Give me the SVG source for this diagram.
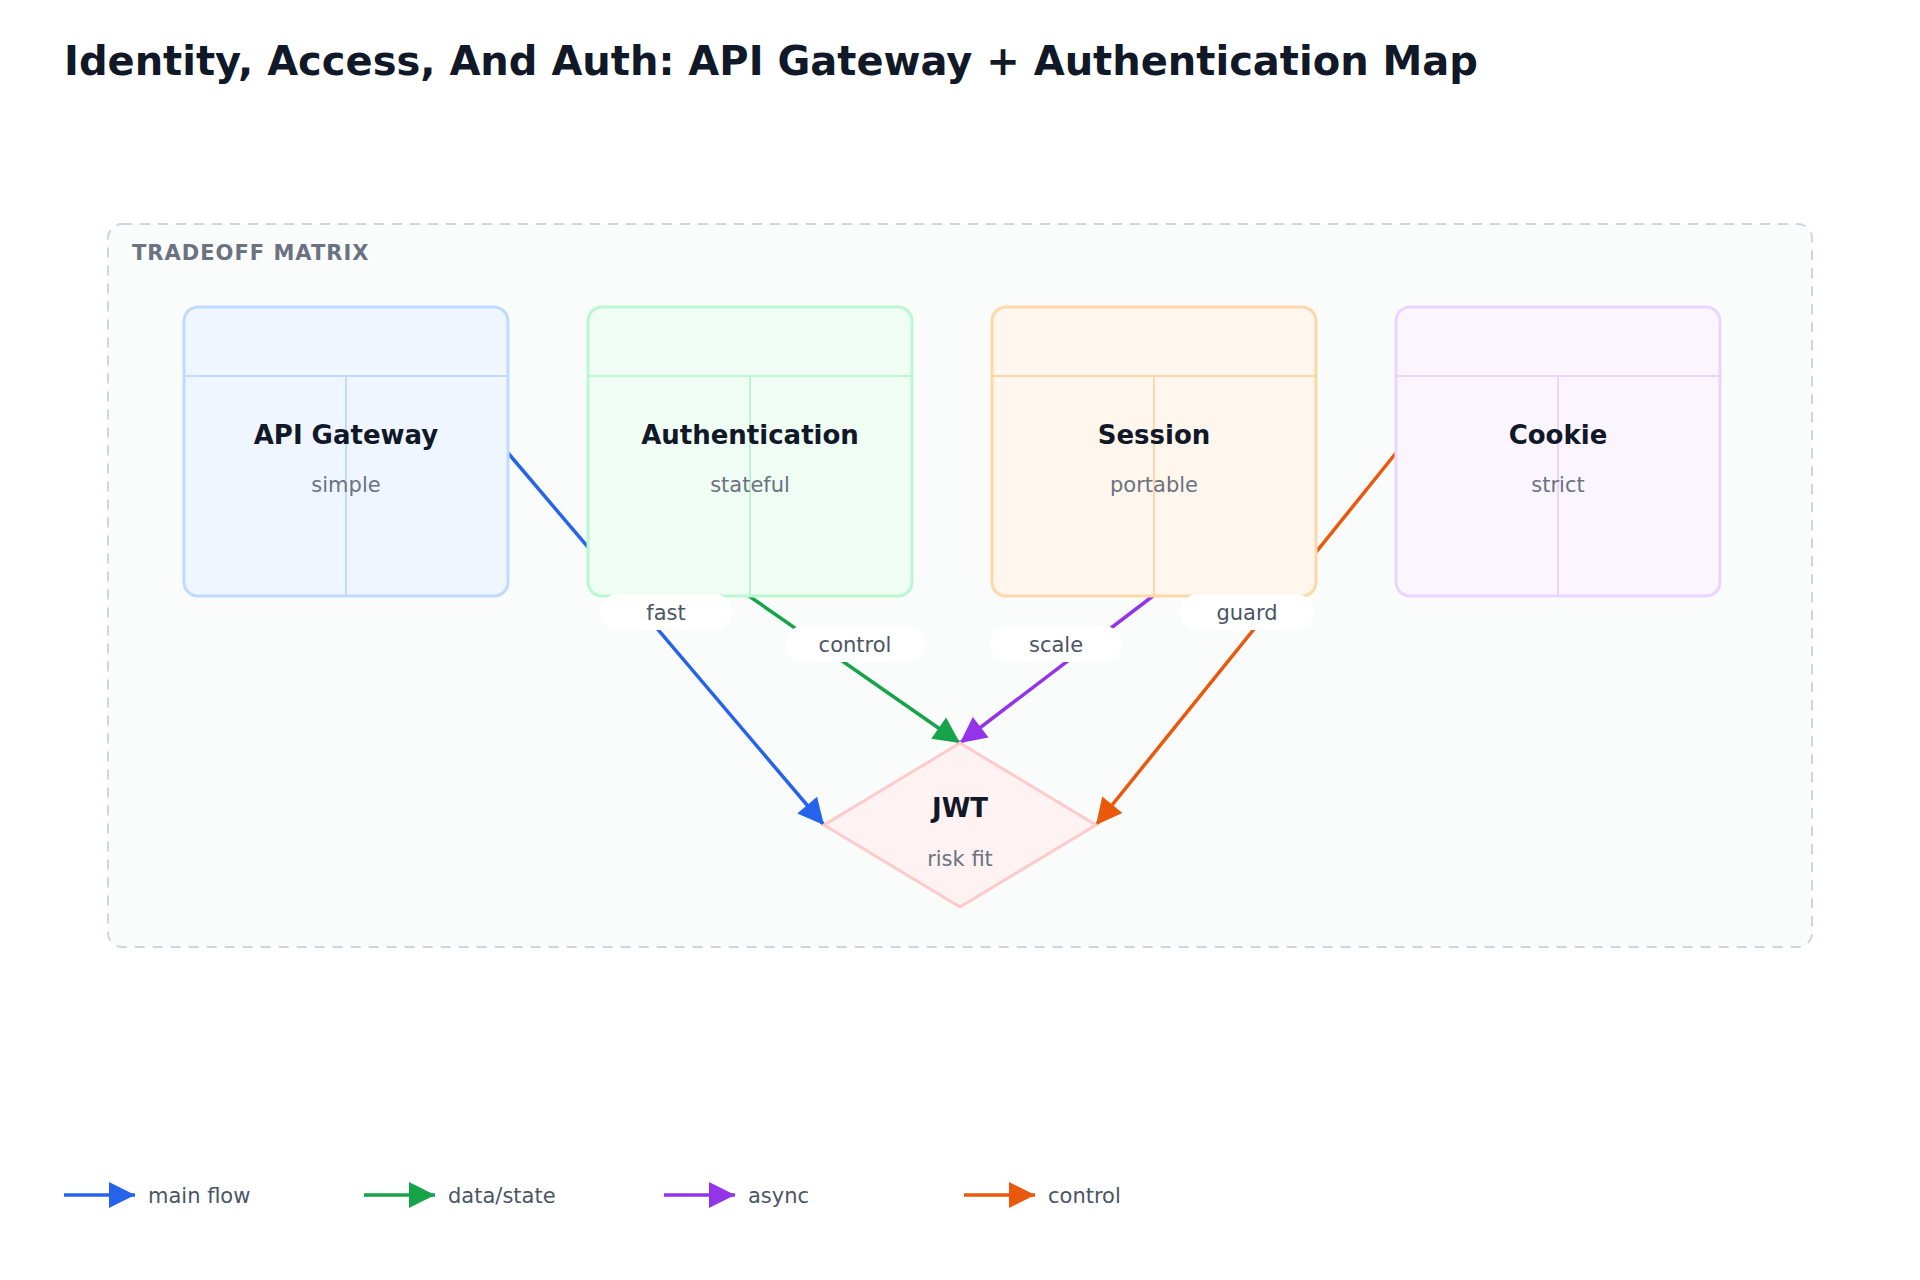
<svg xmlns="http://www.w3.org/2000/svg" width="1920" height="1280" viewBox="0 0 1920 1280">
<style>
.t{font-family:"DejaVu Sans","Liberation Sans",sans-serif}
.title{font-size:40px;font-weight:bold;fill:#111827}
.nt{font-size:26px;font-weight:bold;fill:#111827;text-anchor:middle}
.ns{font-size:21px;fill:#6b7280;text-anchor:middle}
.el{font-size:21px;fill:#4b5563;text-anchor:middle}
.lg{font-size:21px;fill:#4b5563}
.e{fill:none;stroke-width:3.5}
</style>
<defs>
<marker id="ab" viewBox="0 0 10 10" refX="10" refY="5" markerWidth="30" markerHeight="26" markerUnits="userSpaceOnUse" orient="auto"><path d="M0,0L10,5L0,10z" fill="#2563eb"/></marker>
<marker id="ag" viewBox="0 0 10 10" refX="10" refY="5" markerWidth="30" markerHeight="26" markerUnits="userSpaceOnUse" orient="auto"><path d="M0,0L10,5L0,10z" fill="#16a34a"/></marker>
<marker id="ap" viewBox="0 0 10 10" refX="10" refY="5" markerWidth="30" markerHeight="26" markerUnits="userSpaceOnUse" orient="auto"><path d="M0,0L10,5L0,10z" fill="#9333ea"/></marker>
<marker id="ao" viewBox="0 0 10 10" refX="10" refY="5" markerWidth="30" markerHeight="26" markerUnits="userSpaceOnUse" orient="auto"><path d="M0,0L10,5L0,10z" fill="#ea580c"/></marker>
</defs>
<rect width="1920" height="1280" fill="#fff"/>
<text class="t title" x="64" y="75">Identity, Access, And Auth: API Gateway + Authentication Map</text>
<g id="container">
<rect x="108" y="224" width="1704" height="723" rx="14" fill="#fafbfb" stroke="#d1d5db" stroke-width="2" stroke-dasharray="10 8"/>
<text class="t" x="132" y="260" font-size="21" font-weight="bold" fill="#6b7280" letter-spacing="1">TRADEOFF MATRIX</text>
</g>
<g id="connectors">
<line class="e" x1="508" y1="453" x2="824" y2="825" stroke="#2563eb" marker-end="url(#ab)"/>
<line class="e" x1="749" y1="596" x2="960" y2="743" stroke="#16a34a" marker-end="url(#ag)"/>
<line class="e" x1="1153" y1="596" x2="960" y2="743" stroke="#9333ea" marker-end="url(#ap)"/>
<line class="e" x1="1396" y1="453" x2="1096" y2="825" stroke="#ea580c" marker-end="url(#ao)"/>
</g>
<g id="n1"><rect x="184" y="307" width="324" height="289" rx="14" fill="#eff6ff" stroke="#bfdbfe" stroke-width="3"/><path d="M184 376H508M346 376V596" stroke="#bfdbfe" stroke-width="2"/><text class="t nt" x="346" y="444">API Gateway</text><text class="t ns" x="346" y="492">simple</text></g>
<g id="n2"><rect x="588" y="307" width="324" height="289" rx="14" fill="#f0fdf4" stroke="#bbf7d0" stroke-width="3"/><path d="M588 376H912M750 376V596" stroke="#bbf7d0" stroke-width="2"/><text class="t nt" x="750" y="444">Authentication</text><text class="t ns" x="750" y="492">stateful</text></g>
<g id="n3"><rect x="992" y="307" width="324" height="289" rx="14" fill="#fff7ed" stroke="#fed7aa" stroke-width="3"/><path d="M992 376H1316M1154 376V596" stroke="#fed7aa" stroke-width="2"/><text class="t nt" x="1154" y="444">Session</text><text class="t ns" x="1154" y="492">portable</text></g>
<g id="n4"><rect x="1396" y="307" width="324" height="289" rx="14" fill="#faf5ff" stroke="#e9d5ff" stroke-width="3"/><path d="M1396 376H1720M1558 376V596" stroke="#e9d5ff" stroke-width="2"/><text class="t nt" x="1558" y="444">Cookie</text><text class="t ns" x="1558" y="492">strict</text></g>
<g id="n5"><polygon points="960,743 1096,825 960,907 824,825" fill="#fef2f2" stroke="#fecaca" stroke-width="3"/><text class="t nt" x="960" y="817">JWT</text><text class="t ns" x="960" y="866">risk fit</text></g>
<g id="labels">
<rect x="600" y="594" width="132" height="36" rx="18" fill="#fff"/><text class="t el" x="666" y="620">fast</text>
<rect x="785" y="626" width="140" height="36" rx="18" fill="#fff"/><text class="t el" x="855" y="652">control</text>
<rect x="990" y="626" width="132" height="36" rx="18" fill="#fff"/><text class="t el" x="1056" y="652">scale</text>
<rect x="1180" y="594" width="134" height="36" rx="18" fill="#fff"/><text class="t el" x="1247" y="620">guard</text>
</g>
<g id="legend">
<line class="e" x1="64" y1="1195" x2="135" y2="1195" stroke="#2563eb" marker-end="url(#ab)"/><text class="t lg" x="148" y="1203">main flow</text>
<line class="e" x1="364" y1="1195" x2="435" y2="1195" stroke="#16a34a" marker-end="url(#ag)"/><text class="t lg" x="448" y="1203">data/state</text>
<line class="e" x1="664" y1="1195" x2="735" y2="1195" stroke="#9333ea" marker-end="url(#ap)"/><text class="t lg" x="748" y="1203">async</text>
<line class="e" x1="964" y1="1195" x2="1035" y2="1195" stroke="#ea580c" marker-end="url(#ao)"/><text class="t lg" x="1048" y="1203">control</text>
</g>
</svg>
